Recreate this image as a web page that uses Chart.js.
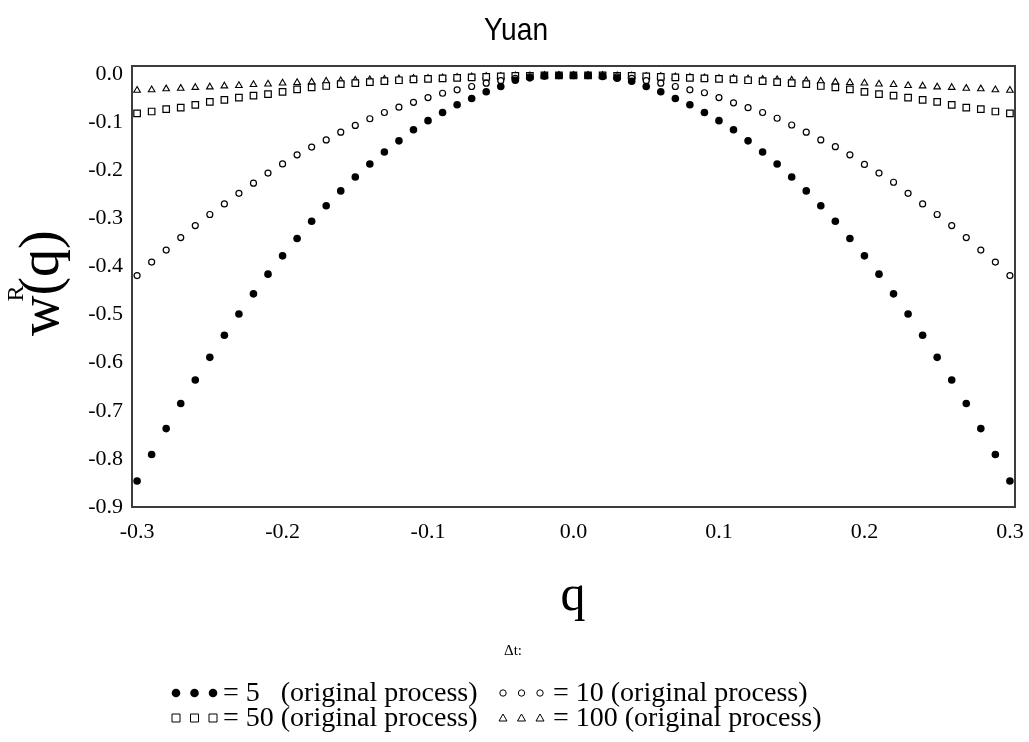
<!DOCTYPE html>
<html>
<head>
<meta charset="utf-8">
<script src="https://cdn.jsdelivr.net/npm/chart.js@4.4.1/dist/chart.umd.min.js"></script>
<style>
  body { margin: 0; background: #fff; }
  #wrap { width: 1029px; height: 742px; position: relative; }
</style>
</head>
<body>
<div id="wrap"><canvas id="chart"></canvas></div>
<script>
// --- data ---
const qValues = [-0.30,-0.29,-0.28,-0.27,-0.26,-0.25,-0.24,-0.23,-0.22,-0.21,
  -0.20,-0.19,-0.18,-0.17,-0.16,-0.15,-0.14,-0.13,-0.12,-0.11,
  -0.10,-0.09,-0.08,-0.07,-0.06,-0.05,-0.04,-0.03,-0.02,-0.01,
  0.00,0.01,0.02,0.03,0.04,0.05,0.06,0.07,0.08,0.09,
  0.10,0.11,0.12,0.13,0.14,0.15,0.16,0.17,0.18,0.19,
  0.20,0.21,0.22,0.23,0.24,0.25,0.26,0.27,0.28,0.29,0.30];

// dt = 5 (filled circles)
const w5 = [-0.846,-0.791,-0.737,-0.685,-0.636,-0.589,-0.543,-0.499,-0.457,-0.416,
  -0.378,-0.342,-0.306,-0.274,-0.243,-0.214,-0.187,-0.162,-0.139,-0.116,
  -0.097,-0.080,-0.064,-0.051,-0.037,-0.026,-0.013,-0.008,-0.004,-0.003,
  -0.003,-0.003,-0.005,-0.009,-0.015,-0.026,-0.037,-0.051,-0.064,-0.080,
  -0.097,-0.116,-0.139,-0.162,-0.187,-0.214,-0.243,-0.274,-0.306,-0.342,
  -0.378,-0.416,-0.457,-0.499,-0.543,-0.589,-0.636,-0.685,-0.737,-0.791,-0.846];

// dt = 10 (open circles)
const w10 = [-0.419,-0.391,-0.366,-0.340,-0.315,-0.292,-0.270,-0.248,-0.227,-0.206,
  -0.187,-0.168,-0.152,-0.137,-0.121,-0.107,-0.093,-0.080,-0.069,-0.059,
  -0.049,-0.040,-0.033,-0.026,-0.019,-0.014,-0.009,-0.006,-0.004,-0.003,
  -0.003,-0.003,-0.004,-0.006,-0.009,-0.014,-0.019,-0.026,-0.033,-0.039,
  -0.049,-0.060,-0.070,-0.080,-0.092,-0.106,-0.121,-0.137,-0.151,-0.168,
  -0.188,-0.206,-0.225,-0.248,-0.270,-0.292,-0.315,-0.340,-0.366,-0.391,-0.419];

// dt = 50 (open squares)
const w50 = [-0.082,-0.078,-0.073,-0.070,-0.064,-0.058,-0.054,-0.049,-0.045,-0.042,
  -0.037,-0.032,-0.028,-0.025,-0.021,-0.019,-0.017,-0.015,-0.013,-0.011,
  -0.010,-0.009,-0.008,-0.007,-0.006,-0.005,-0.004,-0.004,-0.003,-0.003,
  -0.003,-0.003,-0.003,-0.004,-0.004,-0.005,-0.006,-0.007,-0.008,-0.009,
  -0.010,-0.011,-0.013,-0.015,-0.017,-0.019,-0.021,-0.025,-0.028,-0.032,
  -0.037,-0.042,-0.045,-0.049,-0.054,-0.058,-0.064,-0.070,-0.073,-0.078,-0.082];

// dt = 100 (open triangles)
const w100 = [-0.034,-0.033,-0.031,-0.030,-0.028,-0.027,-0.025,-0.024,-0.022,-0.021,
  -0.019,-0.018,-0.017,-0.015,-0.014,-0.013,-0.012,-0.011,-0.010,-0.009,
  -0.009,-0.008,-0.007,-0.006,-0.005,-0.005,-0.004,-0.004,-0.003,-0.003,
  -0.003,-0.003,-0.003,-0.004,-0.004,-0.005,-0.005,-0.006,-0.007,-0.008,
  -0.009,-0.009,-0.010,-0.011,-0.012,-0.013,-0.014,-0.015,-0.017,-0.018,
  -0.019,-0.021,-0.022,-0.024,-0.025,-0.027,-0.028,-0.030,-0.031,-0.033,-0.034];

const xTicks = [-0.3, -0.2, -0.1, 0.0, 0.1, 0.2, 0.3];
const yTicks = [0.0, -0.1, -0.2, -0.3, -0.4, -0.5, -0.6, -0.7, -0.8, -0.9];

const legendRows = [
  [{ marker: 'dot', text: '= 5   (original process)' }, { marker: 'ring', text: '= 10 (original process)' }],
  [{ marker: 'box', text: '= 50 (original process)' }, { marker: 'tri', text: '= 100 (original process)' }]
];

const SERIF = '"Liberation Serif", "Times New Roman", serif';

function pts(ys) {
  return qValues.map((q, i) => ({ x: q, y: ys[i] }));
}

function drawMarker(ctx, kind, x, y) {
  ctx.save();
  ctx.strokeStyle = '#000';
  ctx.fillStyle = '#000';
  ctx.lineWidth = 1;
  ctx.beginPath();
  if (kind === 'dot') {
    ctx.arc(x, y, 4.3, 0, Math.PI * 2);
    ctx.fill();
  } else if (kind === 'ring') {
    ctx.arc(x, y, 3.2, 0, Math.PI * 2);
    ctx.stroke();
  } else if (kind === 'box') {
    ctx.rect(x - 4, y - 4, 8, 8);
    ctx.stroke();
  } else {
    ctx.moveTo(x, y - 4);
    ctx.lineTo(x + 4, y + 3);
    ctx.lineTo(x - 4, y + 3);
    ctx.closePath();
    ctx.stroke();
  }
  ctx.restore();
}

const decorations = {
  id: 'decorations',
  afterDraw(chart) {
    const { ctx, chartArea } = chart;
    ctx.save();
    // frame
    ctx.strokeStyle = '#3c3c3c';
    ctx.lineWidth = 2;
    ctx.strokeRect(chartArea.left, chartArea.top, chartArea.right - chartArea.left, chartArea.bottom - chartArea.top);

    // title (narrowed sans)
    ctx.fillStyle = '#000';
    ctx.textBaseline = 'middle';
    ctx.save();
    ctx.translate(516, 31);
    ctx.scale(0.88, 1);
    ctx.textAlign = 'center';
    ctx.font = '32px "Liberation Sans", Arial, sans-serif';
    ctx.fillText('Yuan', 0, 0);
    ctx.restore();

    // x axis title
    ctx.textAlign = 'center';
    ctx.font = '50px ' + SERIF;
    ctx.fillText('q', 573, 597);

    // y axis title: w^R(q), rotated
    ctx.save();
    ctx.translate(58, 336);
    ctx.rotate(-Math.PI / 2);
    ctx.textAlign = 'left';
    ctx.textBaseline = 'alphabetic';
    ctx.font = '56px ' + SERIF;
    const ww = ctx.measureText('w').width;
    ctx.fillText('w', 0, 0);
    ctx.fillText('(q)', ww, 0);
    ctx.font = '24px ' + SERIF;
    ctx.fillText('R', ww - 6, -35);
    ctx.restore();

    // legend
    ctx.font = '15px ' + SERIF;
    ctx.textAlign = 'center';
    ctx.fillText('\u0394t:', 513, 651);

    ctx.font = '28px ' + SERIF;
    ctx.textAlign = 'left';
    const colX = [176, 503];
    const textX = [223, 553];
    const rowY = [693, 718];
    legendRows.forEach((row, r) => {
      row.forEach((item, c) => {
        for (let k = 0; k < 3; k++) drawMarker(ctx, item.marker, colX[c] + k * 18.5, rowY[r]);
        ctx.fillText(item.text, textX[c], rowY[r] + 1);
      });
    });
    ctx.restore();
  }
};

new Chart(document.getElementById('chart'), {
  type: 'scatter',
  data: {
    datasets: [
      { label: '5', data: pts(w5), pointStyle: 'circle', pointRadius: 3.8, backgroundColor: '#000', borderColor: '#000', borderWidth: 0 },
      { label: '10', data: pts(w10), pointStyle: 'circle', pointRadius: 3, backgroundColor: '#fff', borderColor: '#000', borderWidth: 1.2 },
      { label: '50', data: pts(w50), pointStyle: 'rect', pointRadius: 4.6, backgroundColor: '#fff', borderColor: '#000', borderWidth: 1.2 },
      { label: '100', data: pts(w100), pointStyle: 'triangle', pointRadius: 3.8, backgroundColor: '#fff', borderColor: '#000', borderWidth: 1.1 }
    ]
  },
  options: {
    responsive: true,
    maintainAspectRatio: false,
    animation: false,
    layout: { padding: { top: 66, right: 14, left: 0, bottom: 0 } },
    plugins: { legend: { display: false }, tooltip: { enabled: false }, title: { display: false } },
    elements: { point: { hoverRadius: 4 } },
    scales: {
      x: {
        type: 'linear',
        min: -0.3035,
        max: 0.3035,
        afterFit: s => { s.height = 235; s.paddingLeft = 0; s.paddingRight = 0; },
        afterBuildTicks: s => { s.ticks = xTicks.map(v => ({ value: v })); },
        grid: { display: false, drawTicks: false },
        border: { display: false },
        ticks: {
          padding: 12,
          color: '#000',
          font: { family: SERIF, size: 22 },
          callback: v => v.toFixed(1)
        }
      },
      y: {
        type: 'linear',
        min: -0.9,
        max: 0.0166,
        afterFit: s => { s.width = 132; },
        afterBuildTicks: s => { s.ticks = yTicks.map(v => ({ value: v })); },
        grid: { display: false, drawTicks: false },
        border: { display: false },
        ticks: {
          padding: 9,
          color: '#000',
          font: { family: SERIF, size: 22 },
          callback: v => (Math.abs(v) < 1e-9 ? 0 : v).toFixed(1)
        }
      }
    }
  },
  plugins: [decorations]
});
</script>
</body>
</html>
